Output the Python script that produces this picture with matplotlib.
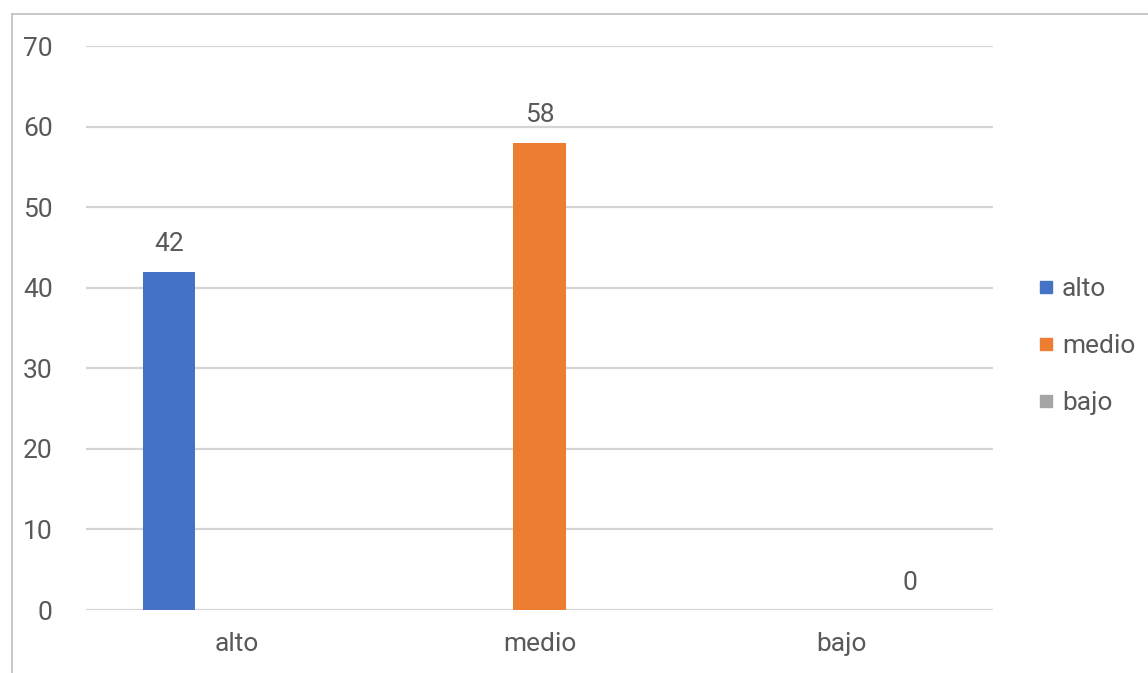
import matplotlib
matplotlib.use("Agg")
import matplotlib.pyplot as plt
from matplotlib.lines import Line2D
import numpy as np

categories = ["alto", "medio", "bajo"]
series_names = ["alto", "medio", "bajo"]
series_values = [[42, None, None], [None, 58, None], [None, None, 0]]
colors = ["#4472C4", "#ED7D31", "#A5A5A5"]
yticks = [0, 10, 20, 30, 40, 50, 60, 70]

plt.rcParams['font.family'] = ['Roboto', 'DejaVu Sans']
text_color = "#595959"
FS = 19

W, H = 1148, 673
fig = plt.figure(figsize=(W / 100, H / 100), dpi=100)
ax = fig.add_axes([86 / W, 1 - 610 / H, (993 - 86) / W, (610 - 46) / H])

x = np.arange(len(categories))
bar_w = 52 / 302
offset = 68 / 302
for i, (name, vals) in enumerate(zip(series_names, series_values)):
    for j, v in enumerate(vals):
        if v is None:
            continue
        xpos = x[j] + (i - 1) * offset
        ax.bar(xpos, v, width=bar_w, color=colors[i], zorder=3)
        ax.annotate(str(v), (xpos, v), xytext=(0, 11), textcoords="offset points",
                    ha="center", va="bottom", fontsize=FS, color=text_color)

ax.set_xlim(-0.5, 2.5)
ax.set_ylim(0, 70)
ax.set_yticks(yticks)
ax.set_xticks(x)
ax.set_xticklabels(categories)
ax.yaxis.grid(True, color="#D4D4D4", linewidth=1.6, zorder=0)
ax.tick_params(axis="both", length=0, labelsize=FS, colors=text_color)
ax.tick_params(axis="y", pad=24)
ax.tick_params(axis="x", pad=16)
for s in ax.spines.values():
    s.set_visible(False)

handles = [Line2D([0], [0], marker="s", linestyle="none", markersize=9,
                  markerfacecolor=c, markeredgecolor=c) for c in colors]
leg = fig.legend(handles, series_names, loc="center left",
                 bbox_to_anchor=(1025 / W, 1 - 346 / H), frameon=False,
                 fontsize=FS, labelcolor=text_color, handlelength=0.6,
                 handletextpad=0.3, labelspacing=1.25, borderpad=0)

# chart border (partially cropped)
fig.add_artist(Line2D([11.5 / W, 1.0], [1 - 13.5 / H, 1 - 13.5 / H], color="#BFBFBF", linewidth=1.2))
fig.add_artist(Line2D([11.5 / W, 11.5 / W], [0, 1 - 13.5 / H], color="#BFBFBF", linewidth=1.2))

fig.savefig("out.png", dpi=100)
